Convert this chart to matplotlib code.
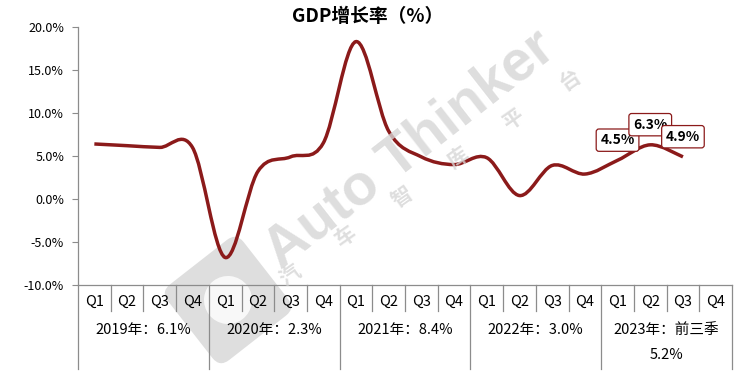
import matplotlib
matplotlib.use("Agg")
import matplotlib.pyplot as plt
import matplotlib.transforms as mtransforms
from matplotlib.path import Path
from matplotlib.patches import PathPatch, FancyBboxPatch, Circle
from matplotlib.ticker import FuncFormatter

plt.rcParams['font.family'] = ['Noto Sans CJK SC', 'DejaVu Sans']

# data
quarters = ["Q1", "Q2", "Q3", "Q4"]
years = ["2019年：6.1%", "2020年：2.3%", "2021年：8.4%", "2022年：3.0%", "2023年：前三季"]
year_extra = ["", "", "", "", "5.2%"]
gdp = [6.4, 6.2, 6.0, 6.0,
       -6.8, 3.2, 4.9, 6.5,
       18.3, 7.9, 4.9, 4.0,
       4.8, 0.4, 3.9, 2.9,
       4.5, 6.3, 4.9]
labelled = [16, 17, 18]

line_color = "#8B1A1A"
grid_gray = "#8c8c8c"

fig = plt.figure(figsize=(7.38, 3.83), dpi=100)
ax = fig.add_axes([78 / 738, 1 - 285 / 383, 654 / 738, 258 / 383])
ax.patch.set_alpha(0)

n_q = len(quarters) * len(years)
ax.set_xlim(0, n_q)
ax.set_ylim(-10, 20)

# smoothed line (Catmull-Rom style bezier, like a spreadsheet smoothed line)
xs = [i + 0.5 for i in range(len(gdp))]
pts = list(zip(xs, gdp))
verts = [pts[0]]
codes = [Path.MOVETO]
for i in range(len(pts) - 1):
    p0 = pts[i - 1] if i > 0 else pts[i]
    p1 = pts[i]
    p2 = pts[i + 1]
    p3 = pts[i + 2] if i + 2 < len(pts) else pts[i + 1]
    c1 = (p1[0] + (p2[0] - p0[0]) / 6, p1[1] + (p2[1] - p0[1]) / 6)
    c2 = (p2[0] - (p3[0] - p1[0]) / 6, p2[1] - (p3[1] - p1[1]) / 6)
    verts += [c1, c2, p2]
    codes += [Path.CURVE4] * 3
ax.add_patch(PathPatch(Path(verts, codes), facecolor="none", edgecolor=line_color,
                       lw=2.5, capstyle="butt", zorder=5))

# data labels
for i in labelled:
    ax.annotate(f"{gdp[i]:.1f}%", (xs[i], gdp[i]), xytext=(0, 14.5), textcoords="offset points",
                ha="center", va="center", fontsize=10, fontweight="bold", color="black",
                bbox=dict(boxstyle="round,pad=0.3,rounding_size=0.2", fc="white",
                          ec=line_color, lw=0.9), zorder=6)

# y axis
ax.set_yticks(range(-10, 21, 5))
ax.yaxis.set_major_formatter(FuncFormatter(lambda v, p: f"{v:.1f}%"))
ax.tick_params(axis="y", length=4, width=0.8, color=grid_gray, labelsize=9, pad=6)
ax.set_xticks([])
for s in ["top", "right"]:
    ax.spines[s].set_visible(False)
ax.spines["left"].set_color(grid_gray)
ax.spines["bottom"].set_color(grid_gray)
ax.spines["left"].set_linewidth(0.9)
ax.spines["bottom"].set_linewidth(0.9)

# multi-level category axis
trans = mtransforms.blended_transform_factory(ax.transData, ax.transAxes)
q_bottom = -26 / 258
y_bottom = -84 / 258
for k in range(n_q + 1):
    low = y_bottom if k % 4 == 0 else q_bottom
    ax.plot([k, k], [0, low], color=grid_gray, lw=0.9, transform=trans, clip_on=False)
for k in range(n_q):
    ax.text(k + 0.5, -17 / 258, quarters[k % 4], transform=trans, ha="center", va="center",
            fontsize=10.5)
for j, name in enumerate(years):
    ax.text(4 * j + 2, -45 / 258, name, transform=trans, ha="center", va="center", fontsize=10.5)
    if year_extra[j]:
        ax.text(4 * j + 2, -70 / 258, year_extra[j], transform=trans, ha="center", va="center",
                fontsize=10.5)

# title
fig.text(368 / 738, 1 - 16 / 383, "GDP增长率（%）", ha="center", va="center",
         fontsize=13.5, fontweight="bold")

# watermark
wm = "#d6d6d6"
fig.text(410 / 738, 1 - 150 / 383, "Auto Thinker", ha="center", va="center", rotation=38,
         fontsize=41, fontweight="bold", color=wm, alpha=0.8, zorder=0, family="Liberation Sans")
wm_chars = "汽车智库平台"
for k, ch in enumerate(wm_chars):
    fig.text((290 + 56 * k) / 738, 1 - (275 - 39 * k) / 383, ch, ha="center", va="center",
             rotation=35, fontsize=15, fontweight="bold", color=wm, alpha=0.8, zorder=0)
logo_ax = fig.add_axes([0, 0, 1, 1], zorder=-1)
logo_ax.set_xlim(0, 738)
logo_ax.set_ylim(383, 0)
logo_ax.axis("off")
rot = mtransforms.Affine2D().rotate_deg_around(228, 300, -38) + logo_ax.transData
logo_ax.add_patch(FancyBboxPatch((180, 252), 96, 96, boxstyle="round,pad=0,rounding_size=12",
                                 fc=wm, ec="none", alpha=0.8, transform=rot))
logo_ax.add_patch(Circle((228, 300), 24, fc="white", ec="none", alpha=0.8, transform=rot))

fig.savefig("out.png", dpi=100)
